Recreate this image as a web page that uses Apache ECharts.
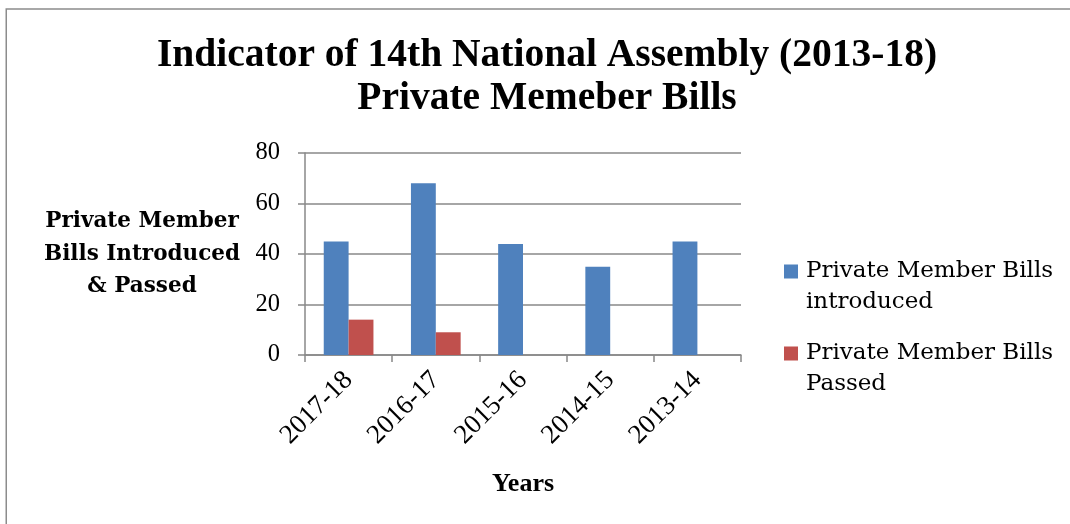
<!DOCTYPE html>
<html>
<head>
<meta charset="utf-8">
<title>Private Member Bills</title>
<script src="https://cdn.jsdelivr.net/npm/echarts@6/dist/echarts.min.js"></script>
<style>
  html, body { margin: 0; padding: 0; background: #ffffff; }
  #chart { width: 1070px; height: 524px; }
</style>
</head>
<body>
<div id="chart"></div>
<script>
// Parliamentary years, newest first
const years = ['2017-18', '2016-17', '2015-16', '2014-15', '2013-14'];

// Private member bills per year
const billsIntroduced = [45, 68, 44, 35, 45];
const billsPassed = [14, 9, 0, 0, 0];

// Value axis ticks
const yTicks = [0, 20, 40, 60, 80];

const seriesNames = ['Private Member Bills introduced', 'Private Member Bills Passed'];
const colors = ['#4F81BD', '#C0504D'];

const axisGrey = '#888888';
const serif = '"Liberation Serif", "Times New Roman", serif';
const wideSerif = '"DejaVu Serif", serif';

const chart = echarts.init(document.getElementById('chart'), null, { renderer: 'canvas' });

chart.setOption({
  animation: false,
  backgroundColor: '#ffffff',
  color: colors,
  graphic: [{
    type: 'rect',
    silent: true,
    shape: { x: 6.25, y: 9, width: 1200, height: 700 },
    style: { fill: 'none', stroke: '#8c8c8c', lineWidth: 1.5 }
  }],
  title: {
    text: 'Indicator of 14th National Assembly (2013-18)\nPrivate Memeber Bills',
    left: 547,
    top: 34,
    textAlign: 'center',
    padding: 0,
    textStyle: {
      fontFamily: serif,
      fontWeight: 'bold',
      fontSize: 39.5,
      lineHeight: 43,
      color: '#000000'
    }
  },
  legend: {
    orient: 'vertical',
    left: 784,
    top: 256,
    padding: 0,
    itemGap: 20,
    itemWidth: 14,
    itemHeight: 45,
    icon: 'path://M0,0h14v14h-14z M0,44.9h0.1v0.1h-0.1z',
    selectedMode: false,
    formatter: name => name.replace('Bills ', 'Bills\n'),
    textStyle: {
      fontFamily: wideSerif,
      fontSize: 23,
      lineHeight: 31,
      color: '#000000',
      padding: [0, 0, 0, 3]
    },
    data: seriesNames
  },
  grid: {
    left: 305,
    right: 329,
    top: 153,
    bottom: 169,
    containLabel: false
  },
  xAxis: {
    type: 'category',
    data: years,
    name: 'Years',
    nameLocation: 'middle',
    nameGap: 129,
    nameTextStyle: {
      fontFamily: serif,
      fontWeight: 'bold',
      fontSize: 26,
      verticalAlign: 'middle',
      color: '#000000'
    },
    axisLine: { show: true, lineStyle: { color: axisGrey, width: 1.5 } },
    axisTick: { show: true, length: 7, lineStyle: { color: axisGrey, width: 1.5 } },
    axisLabel: {
      rotate: 45,
      margin: 21,
      fontFamily: serif,
      fontSize: 27,
      color: '#000000'
    }
  },
  yAxis: {
    type: 'value',
    min: yTicks[0],
    max: yTicks[yTicks.length - 1],
    interval: yTicks[1] - yTicks[0],
    name: 'Private Member\nBills Introduced\n& Passed',
    nameLocation: 'middle',
    nameRotate: 0,
    nameGap: 163,
    nameTextStyle: {
      fontFamily: wideSerif,
      fontWeight: 'bold',
      fontSize: 21.5,
      lineHeight: 32.5,
      align: 'center',
      verticalAlign: 'middle',
      color: '#000000'
    },
    axisLine: { show: true, lineStyle: { color: axisGrey, width: 1.5 } },
    axisTick: { show: true, length: 7, lineStyle: { color: axisGrey, width: 1.5 } },
    splitLine: { show: true, lineStyle: { color: axisGrey, width: 1.5 } },
    axisLabel: {
      margin: 25,
      fontFamily: serif,
      fontSize: 24.5,
      color: '#000000'
    }
  },
  series: [
    {
      name: seriesNames[0],
      type: 'bar',
      data: billsIntroduced,
      barGap: '0%',
      barCategoryGap: '43%',
      itemStyle: { color: colors[0] }
    },
    {
      name: seriesNames[1],
      type: 'bar',
      data: billsPassed,
      itemStyle: { color: colors[1] }
    }
  ]
});
</script>
</body>
</html>
